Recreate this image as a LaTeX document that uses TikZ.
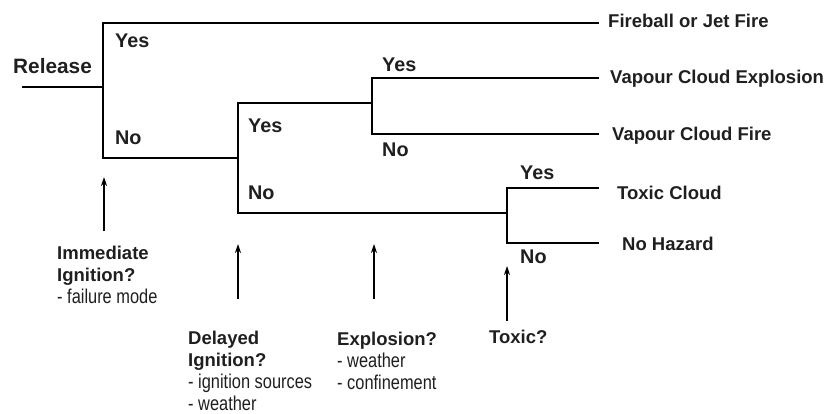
\documentclass[tikz,border=0pt]{standalone}
\usepackage{fontspec}
\setmainfont{Liberation Sans}
\newfontfamily\narrowfont[FakeStretch=0.82]{Liberation Sans}
\usetikzlibrary{arrows.meta}
\begin{document}
\begin{tikzpicture}[x=1pt,y=-1pt,
  branch/.style={line width=2pt, line cap=rect},
  cue/.style={line width=1.4pt, -{Stealth[length=9pt,width=6pt]}},
  lbl/.style={font=\bfseries\fontsize{18.5}{22}\selectfont, inner sep=0pt, anchor=base west, text=black!88},
  yn/.style={lbl, font=\bfseries\fontsize{19.8}{22}\selectfont},
  qlbl/.style={font=\fontsize{18.5}{22}\selectfont, inner sep=0pt, anchor=north west, align=left, text=black!88},
]
\useasboundingbox (0,0) rectangle (829,414);
\newcommand{\nar}[1]{{\narrowfont\mdseries\fontsize{20}{22}\selectfont #1}}

% junction coordinates
\coordinate (r0) at (23,87);
\coordinate (j1) at (103,87);
\coordinate (j1t) at (103,23);
\coordinate (j1b) at (103,158);
\coordinate (j2b) at (238,158);
\coordinate (j2t) at (238,103);
\coordinate (j2l) at (238,213);
\coordinate (j3) at (372,103);
\coordinate (j3t) at (372,78);
\coordinate (j3b) at (372,134);
\coordinate (j4) at (507,213);
\coordinate (j4t) at (507,188);
\coordinate (j4b) at (507,243);
\coordinate (e1) at (598,23);
\coordinate (e2) at (598,78);
\coordinate (e3) at (598,134);
\coordinate (e4) at (598,188);
\coordinate (e5) at (598,243);

% tree
\draw[branch] (r0) -- (j1);
\draw[branch] (e1) -- (j1t) -- (j1b) -- (j2b) -- (j2t) -- (j3) ;
\draw[branch] (j2b) -- (j2l) -- (j4);
\draw[branch] (e2) -- (j3t) -- (j3b) -- (e3);
\draw[branch] (e4) -- (j4t) -- (j4b) -- (e5);

% labels on tree
\node[lbl, font=\bfseries\fontsize{20.8}{22}\selectfont] (rel) at (13,74) {Release};
\node[yn] (y1) at (115,48) {Yes};
\node[yn] (n1) at (115,145) {No};
\node[yn] (y2) at (248,133) {Yes};
\node[yn] (n2) at (248,200) {No};
\node[yn] (y3) at (382,72) {Yes};
\node[yn] (n3) at (382,157) {No};
\node[yn] (y4) at (520,179) {Yes};
\node[yn] (n4) at (520,263) {No};

% outcomes
\node[lbl] (o1) at (608,28) {Fireball or Jet Fire};
\node[lbl] (o2) at (610,84) {Vapour Cloud Explosion};
\node[lbl] (o3) at (612,141) {Vapour Cloud Fire};
\node[lbl] (o4) at (617,200) {Toxic Cloud};
\node[lbl] (o5) at (622,250) {No Hazard};

% questions
\node[qlbl] (q1) at (57,246) {\textbf{Immediate}\\\textbf{Ignition?}\\\nar{- failure mode}};
\node[qlbl] (q2) at (188,331) {\textbf{Delayed}\\\textbf{Ignition?}\\\nar{- ignition sources}\\\nar{- weather}};
\node[qlbl] (q3) at (337,332) {\textbf{Explosion?}\\\nar{- weather}\\\nar{- confinement}};
\node[qlbl] (q4) at (489,330) {\textbf{Toxic?}};

% arrows
\coordinate (a1s) at (104,231); \coordinate (a1e) at (104,177);
\coordinate (a2s) at (238,299); \coordinate (a2e) at (238,244);
\coordinate (a3s) at (374,299); \coordinate (a3e) at (374,244);
\coordinate (a4s) at (507,321); \coordinate (a4e) at (507,266);
\draw[cue] (a1s) -- (a1e);
\draw[cue] (a2s) -- (a2e);
\draw[cue] (a3s) -- (a3e);
\draw[cue] (a4s) -- (a4e);
\end{tikzpicture}
\end{document}
